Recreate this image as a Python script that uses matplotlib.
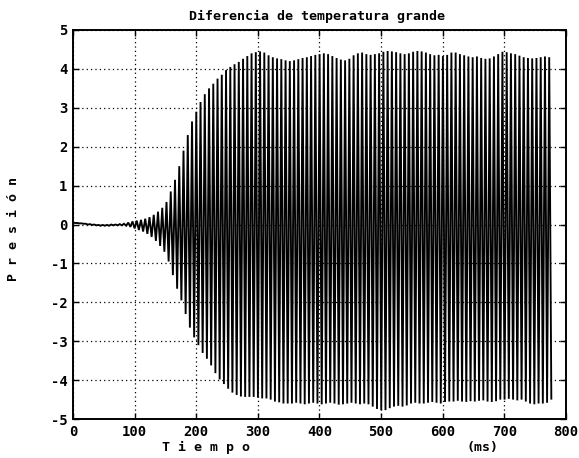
import numpy as np
import matplotlib
matplotlib.use("Agg")
import matplotlib.pyplot as plt

plt.rcParams['axes.unicode_minus'] = False

title = "Diferencia de temperatura grande"
xlabel = "T i e m p o"
xunit = "(ms)"
ylabel = "P r e s i ó n"
xticks = [0, 100, 200, 300, 400, 500, 600, 700, 800]
yticks = [-5, -4, -3, -2, -1, 0, 1, 2, 3, 4, 5]

period_ms = 6.9  # spacing of successive peaks

# upper extreme of each oscillation cycle
peak_vals = [
    0.05, 0.04, 0.03, 0.02, 0.01, 0.00, -0.01, -0.01, -0.01, 0.00,
    0.00, 0.01, 0.02, 0.05, 0.08, 0.10, 0.12, 0.15, 0.19, 0.25,
    0.33, 0.43, 0.58, 0.85, 1.15, 1.50, 1.90, 2.30, 2.65, 2.90,
    3.15, 3.35, 3.50, 3.62, 3.75, 3.85, 3.97, 4.05, 4.12, 4.18,
    4.26, 4.33, 4.40, 4.43, 4.45, 4.42, 4.35, 4.30, 4.27, 4.25,
    4.22, 4.20, 4.22, 4.25, 4.28, 4.30, 4.33, 4.36, 4.38, 4.40,
    4.38, 4.33, 4.28, 4.24, 4.22, 4.26, 4.35, 4.40, 4.42, 4.38,
    4.36, 4.38, 4.40, 4.44, 4.46, 4.45, 4.43, 4.40, 4.38, 4.40,
    4.44, 4.46, 4.45, 4.42, 4.38, 4.35, 4.36, 4.33, 4.36, 4.42,
    4.42, 4.38, 4.35, 4.32, 4.30, 4.32, 4.28, 4.26, 4.27, 4.32,
    4.38, 4.44, 4.43, 4.40, 4.38, 4.34, 4.30, 4.28, 4.27, 4.28,
    4.30, 4.32, 4.30,
]

# lower extreme of each oscillation cycle
trough_vals = [
    0.04, 0.03, 0.02, 0.00, -0.01, -0.02, -0.03, -0.03, -0.03, -0.02,
    -0.02, -0.02, -0.03, -0.06, -0.10, -0.14, -0.18, -0.24, -0.32, -0.42,
    -0.55, -0.70, -0.95, -1.30, -1.65, -1.95, -2.30, -2.65, -2.90, -3.10,
    -3.30, -3.45, -3.62, -3.82, -3.98, -4.10, -4.22, -4.32, -4.38, -4.42,
    -4.43, -4.43, -4.43, -4.45, -4.47, -4.47, -4.50, -4.55, -4.57, -4.60,
    -4.60, -4.60, -4.58, -4.60, -4.62, -4.60, -4.58, -4.60, -4.62, -4.60,
    -4.58, -4.60, -4.63, -4.62, -4.60, -4.58, -4.60, -4.62, -4.60, -4.62,
    -4.68, -4.74, -4.77, -4.77, -4.72, -4.68, -4.66, -4.68, -4.65, -4.60,
    -4.58, -4.60, -4.60, -4.58, -4.56, -4.58, -4.60, -4.56, -4.55, -4.55,
    -4.53, -4.55, -4.56, -4.54, -4.55, -4.53, -4.52, -4.55, -4.56, -4.54,
    -4.50, -4.50, -4.48, -4.50, -4.52, -4.50, -4.55, -4.60, -4.62, -4.60,
    -4.60, -4.58, -4.50,
]

peaks = np.array(peak_vals)
troughs = np.array(trough_vals)
t_peak = np.arange(len(peaks)) * period_ms
t_trough = t_peak + period_ms / 2

t = np.empty(2 * len(peaks))
y = np.empty(2 * len(peaks))
t[0::2], t[1::2] = t_peak, t_trough
y[0::2], y[1::2] = peaks, troughs

mono = "DejaVu Sans Mono"

fig = plt.figure(figsize=(5.79, 4.58), dpi=100)
ax = fig.add_axes([0.126, 0.085, 0.8515, 0.8495])

ax.plot(t, y, color="black", linewidth=1.35, zorder=2,
        solid_joinstyle="miter", solid_capstyle="butt")

ax.set_xlim(0, 800)
ax.set_ylim(-5, 5)
ax.set_xticks(xticks)
ax.set_yticks(yticks)
ax.set_xticklabels([str(v) for v in xticks], fontfamily=mono, fontweight="bold", fontsize=10)
ax.set_yticklabels([str(v) for v in yticks], fontfamily=mono, fontweight="bold", fontsize=10)
ax.tick_params(direction="in", length=4, width=1, top=True, right=True, pad=4)

ax.grid(True, color="black", linestyle=(0, (1, 2.5)), linewidth=0.9, zorder=3)
ax.set_axisbelow(False)
for sp in ax.spines.values():
    sp.set_linewidth(1.4)
    sp.set_zorder(4)

fig.text(0.548, 0.965, title, ha="center", va="center", fontfamily=mono,
         fontweight="bold", fontsize=9.5)
fig.text(0.355, 0.022, xlabel, ha="center", va="center", fontfamily=mono,
         fontweight="bold", fontsize=9.5)
fig.text(0.833, 0.022, xunit, ha="center", va="center", fontfamily=mono,
         fontweight="bold", fontsize=9.5)
fig.text(0.024, 0.50, ylabel, ha="center", va="center", rotation=90,
         fontfamily=mono, fontweight="bold", fontsize=9.5)

fig.savefig("out.png", dpi=100)
